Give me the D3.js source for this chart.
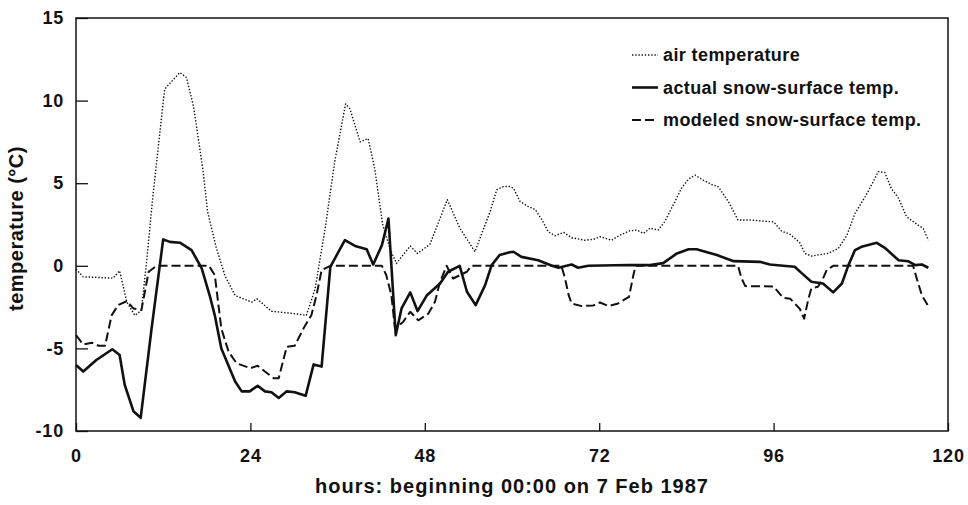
<!DOCTYPE html>
<html>
<head>
<meta charset="utf-8">
<script src="https://cdn.jsdelivr.net/npm/d3@7"></script>
<style>
  body { margin: 0; background: #fff; }
  svg { display: block; font-family: Arial, "Liberation Sans", sans-serif; }
  .tick text { font-weight: bold; font-size: 18px; letter-spacing: 0.8px; fill: #111; }
</style>
</head>
<body>
<svg id="chart" width="968" height="505"></svg>
<script>
// hours since 00:00 on 7 Feb 1987 and temperatures (°C)
const airHours = [0, 1, 2.8, 5.1, 6, 7, 8.1, 9, 9.7, 10.6, 12.2, 14.3, 15.2, 16.2, 17.5, 18.1, 19.3, 20.5, 21.9, 24.2,
  24.9, 26.9, 30.1, 31.7, 32.9, 34.3, 35.6, 37.1, 37.7, 39.1, 40.2, 41.1, 42.2, 43.2, 44.1, 45, 46, 47, 48.7, 51.1,
  52.8, 54.9, 57, 57.9, 58.8, 59.7, 60.2, 61.1, 62.2, 63.2, 64.1, 65, 65.9, 67.1, 68.2, 70, 71.2, 72.1, 73.7, 74.9,
  76.2, 77.2, 78.1, 79, 80.1, 81, 82.4, 83.3, 84.3, 85.2, 86.3, 87.5, 88.4, 89.8, 91.1, 92.7, 96, 97.1, 98.3, 99.6,
  100.3, 101.2, 103.5, 104.9, 106.1, 107.2, 108.6, 109.7, 110.4, 111.3, 112.2, 113.2, 114.3, 115.9, 116.6, 117.3];
const airTemp = [-0.2, -0.67, -0.7, -0.75, -0.3, -2.2, -3, -2.7, 0.2, 4.3, 10.7, 11.7, 11.4, 9.6, 5.7, 3.3, 1.1, -0.6, -1.8, -2.2,
  -2, -2.75, -2.9, -3, -1.4, 2.3, 6.3, 9.8, 9.5, 7.5, 7.7, 5.9, 2.5, 1.05, 0.14, 0.65, 1.2, 0.75, 1.3, 4,
  2.3, 0.85, 3.3, 4.6, 4.8, 4.8, 4.7, 3.9, 3.6, 3.4, 2.8, 2.06, 1.82, 2.02, 1.7, 1.55, 1.6, 1.76, 1.55, 1.86,
  2.12, 2.16, 1.96, 2.28, 2.16, 2.66, 3.87, 4.68, 5.25, 5.49, 5.19, 4.92, 4.78, 3.87, 2.77, 2.77, 2.66, 2.1, 1.9, 1.4,
  0.75, 0.59, 0.75, 1.05, 1.86, 3.17, 4.18, 5.08, 5.7, 5.65, 4.68, 4.08, 2.97, 2.46, 2.26, 1.55];

const actualHours = [0, 1, 2.8, 5, 6, 6.7, 7.9, 8.9, 10.4, 12, 12.9, 14.3, 15.9, 17.3, 18.4, 19.1, 20, 21.9, 22.8, 23.9,
  25, 26, 26.9, 27.9, 29, 30.1, 31.6, 32.7, 33.8, 35, 37, 38.4, 40, 40.9, 42.1, 43, 44, 44.8, 46, 47,
  48.3, 50.1, 51.2, 52.8, 53.8, 55, 56.3, 57.2, 58.3, 59.7, 60.2, 61.3, 63.6, 65.5, 66.4, 68.2, 69.1, 70.5, 76, 79,
  80.8, 82.7, 84.3, 85.4, 88.2, 90.5, 94.1, 95.5, 97.3, 98.9, 99.9, 101.2, 102.8, 104.2, 105.4, 106.3, 107.2, 108.1, 110.2, 111.3,
  113.2, 114.5, 115.5, 116.4, 117.3];
const actualTemp = [-6, -6.4, -5.7, -5.05, -5.4, -7.2, -8.8, -9.2, -3.8, 1.6, 1.45, 1.4, 0.95, -0.16, -1.8, -3, -5, -7, -7.6, -7.6,
  -7.26, -7.6, -7.65, -8, -7.6, -7.65, -7.87, -5.97, -6.1, -0.06, 1.55, 1.2, 1, 0.08, 1.25, 2.86, -4.2, -2.58, -1.61, -2.74,
  -1.78, -1.07, -0.36, 0, -1.57, -2.38, -1.17, 0.04, 0.65, 0.82, 0.85, 0.54, 0.34, 0, -0.12, 0.08, -0.12, 0, 0.05, 0.04,
  0.16, 0.75, 1, 1, 0.65, 0.28, 0.24, 0.08, 0, -0.06, -0.46, -0.97, -1.07, -1.61, -1.07, 0.04, 0.95, 1.15, 1.39, 1.09,
  0.34, 0.28, 0.04, 0.08, -0.12];

const modelHours = [0, 1, 2.2, 3.1, 4, 4.9, 5.8, 7, 7.9, 9, 10, 11.1, 18.3, 19.1, 20, 21, 22.1, 24, 25, 26,
  27.2, 27.9, 29, 30.1, 31.3, 32.4, 33.1, 33.8, 35, 42.1, 42.7, 43.4, 43.9, 45, 46, 47.1, 48.5, 49.4, 50.1, 51,
  51.9, 53.8, 54.4, 66.8, 67.3, 67.8, 68.2, 69.6, 71.2, 72.1, 73.3, 74.6, 76.1, 76.7, 77, 91.1, 91.6, 92.1, 96, 96.6,
  97.3, 98.3, 99.6, 100.2, 100.8, 101.2, 102.1, 102.8, 103.3, 104.2, 115.2, 115.7, 116.4, 117.2];
const modelTemp = [-4.2, -4.76, -4.66, -4.84, -4.84, -3, -2.38, -2.14, -2.58, -2.68, -0.36, 0, 0, -0.57, -3.8, -5.2, -5.9, -6.2, -6.05, -6.4,
  -6.8, -6.8, -4.9, -4.84, -3.8, -2.98, -1.78, -0.26, 0, 0, -0.57, -1.78, -3.8, -3.4, -2.78, -3.3, -2.89, -2.18, -0.97, 0,
  -0.77, -0.36, 0, 0, -0.77, -1.78, -2.28, -2.44, -2.4, -2.22, -2.44, -2.28, -1.88, -0.57, 0, 0, -0.77, -1.23, -1.25, -1.57,
  -1.94, -2, -2.6, -3.2, -1.98, -1.37, -1.27, -0.77, -0.26, 0, 0, -0.77, -1.78, -2.38];

const xTicks = [0, 24, 48, 72, 96, 120];
const yTicks = [-10, -5, 0, 5, 10, 15];

const seriesNames = ['air temperature', 'actual snow-surface temp.', 'modeled snow-surface temp.'];

const svg = d3.select('#chart');
const [plotLeft, plotRight, plotTop, plotBottom] = [76, 948, 18, 431];

const x = d3.scaleLinear().domain([0, 120]).range([plotLeft, plotRight]);
const y = d3.scaleLinear().domain([-10, 15]).range([plotBottom, plotTop]);

const styles = [
  { width: 1.4, dash: '1.4 1.8' },
  { width: 2.6, dash: null },
  { width: 2, dash: '9 4' }
];

const series = [
  d3.zip(airHours, airTemp),
  d3.zip(actualHours, actualTemp),
  d3.zip(modelHours, modelTemp)
];

const line = d3.line()
  .x(d => x(d[0]))
  .y(d => y(d[1]));

// data lines
svg.append('g')
  .selectAll('path')
  .data(series)
  .enter()
  .append('path')
    .attr('d', line)
    .attr('fill', 'none')
    .attr('stroke', '#111')
    .attr('stroke-width', (d, i) => styles[i].width)
    .attr('stroke-dasharray', (d, i) => styles[i].dash)
    .attr('stroke-linejoin', 'round');

// axes, ticks pointing inwards; plain hyphen for negatives like the original
svg.append('g')
  .attr('transform', `translate(${plotLeft},0)`)
  .call(d3.axisLeft(y).tickValues(yTicks).tickSizeInner(-12).tickSizeOuter(0).tickPadding(12).tickFormat(d => String(d)))
  .call(g => g.select('.domain').remove())
  .call(g => g.selectAll('.tick line').attr('stroke', '#111').attr('stroke-width', 1.3));

svg.append('g')
  .attr('transform', `translate(0,${plotBottom})`)
  .call(d3.axisBottom(x).tickValues(xTicks).tickSizeInner(-8).tickSizeOuter(0).tickPadding(18))
  .call(g => g.select('.domain').remove())
  .call(g => g.selectAll('.tick line').attr('stroke', '#111').attr('stroke-width', 1.3));

// frame
svg.append('rect')
  .attr('x', plotLeft)
  .attr('y', plotTop)
  .attr('width', plotRight - plotLeft)
  .attr('height', plotBottom - plotTop)
  .attr('fill', 'none')
  .attr('stroke', '#111')
  .attr('stroke-width', 1.5);

// axis titles
svg.append('text')
  .attr('x', (plotLeft + plotRight) / 2)
  .attr('y', 493)
  .attr('text-anchor', 'middle')
  .style('font-size', '20px')
  .style('font-weight', 'bold')
  .style('letter-spacing', '1px')
  .attr('fill', '#111')
  .text('hours: beginning 00:00 on 7 Feb 1987');

svg.append('text')
  .attr('transform', `translate(23, ${(plotTop + plotBottom) / 2 + 4}) rotate(-90)`)
  .attr('text-anchor', 'middle')
  .style('font-size', '20px')
  .style('font-weight', 'bold')
  .style('letter-spacing', '0.5px')
  .attr('fill', '#111')
  .text('temperature (°C)');

// legend
const legend = svg.append('g')
  .selectAll('g')
  .data(seriesNames)
  .enter()
  .append('g')
    .attr('transform', (d, i) => `translate(632, ${55 + i * 32.5})`);

legend.append('line')
  .attr('x1', 0)
  .attr('x2', 26)
  .attr('stroke', '#111')
  .attr('stroke-width', (d, i) => styles[i].width)
  .attr('stroke-dasharray', (d, i) => styles[i].dash);

legend.append('text')
  .attr('x', 31)
  .attr('dy', '0.35em')
  .style('font-size', '18px')
  .style('font-weight', 'bold')
  .style('letter-spacing', '0.4px')
  .attr('fill', '#111')
  .text(d => d);
</script>
</body>
</html>
